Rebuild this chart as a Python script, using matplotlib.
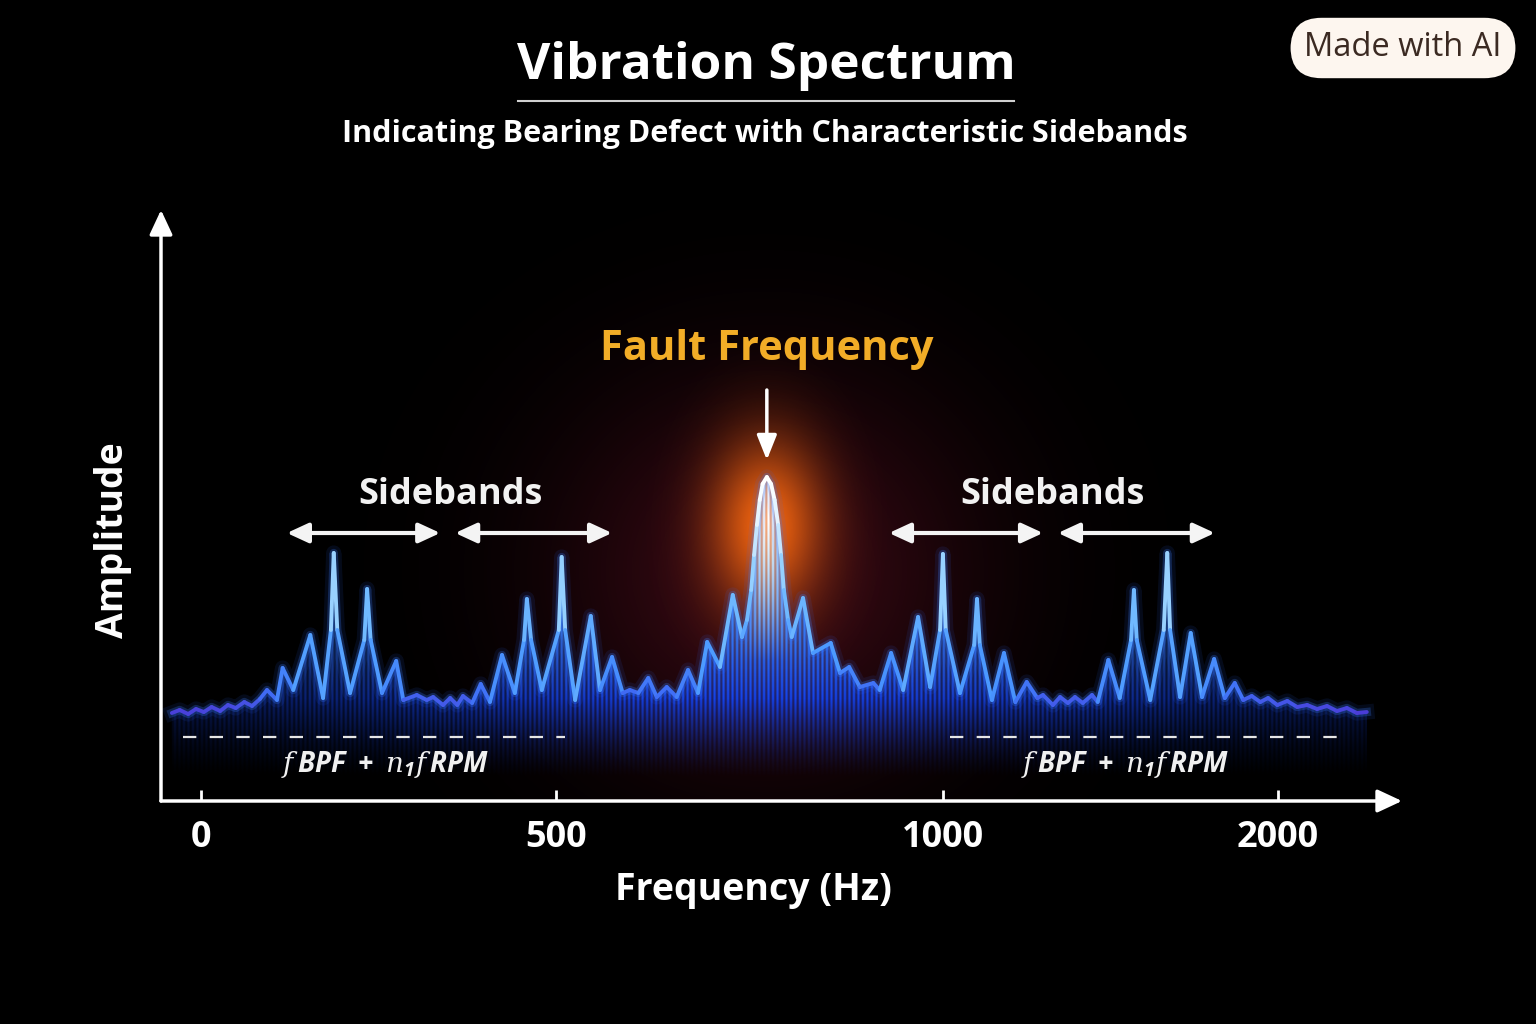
import numpy as np
import matplotlib
matplotlib.use("Agg")
import matplotlib.pyplot as plt
from matplotlib.collections import LineCollection
from matplotlib.patches import Polygon
from matplotlib.lines import Line2D
import matplotlib.colors as mcolors

# ---------------- data ----------------
freq_hz = [-41, -30, -18, -7, 4, 15, 27, 38, 49, 61, 72, 83, 93, 107, 115, 130,
           154, 172, 183, 187, 192, 210, 230, 234, 239, 255, 275, 285, 304, 318,
           327, 341, 351, 361, 369, 382, 394, 407, 424, 442, 455, 459, 465, 480,
           504, 508, 513, 527, 549, 562, 579, 594, 604, 616, 630, 642, 656, 670,
           686, 700, 713, 731, 749, 762, 769, 775, 779, 783, 787, 791, 797, 803,
           808, 813, 817, 821, 827, 832, 848, 862, 887, 900, 913, 928, 947, 956,
           972, 989, 1010, 1027, 1041, 1045, 1049, 1069, 1089, 1093, 1097, 1114,
           1131, 1147, 1163, 1178, 1186, 1200, 1210, 1221, 1231, 1242, 1255, 1263,
           1278, 1294, 1310, 1314, 1318, 1337, 1356, 1361, 1365, 1379, 1394, 1410,
           1427, 1442, 1456, 1468, 1480, 1492, 1503, 1516, 1530, 1544, 1558, 1572,
           1586, 1600, 1614, 1628, 1642]
amplitude = [88, 91, 87, 92, 89, 94, 90, 96, 93, 99, 95, 102, 111, 101, 133, 111,
             166, 103, 171, 248, 171, 108, 161, 212, 161, 108, 140, 101, 106, 101,
             104, 96, 103, 96, 105, 98, 117, 99, 146, 108, 161, 202, 161, 111,
             171, 244, 171, 101, 185, 111, 144, 108, 111, 108, 123, 104, 114, 104,
             131, 108, 159, 134, 206, 164, 181, 211, 246, 276, 301, 317, 324, 317,
             301, 276, 246, 211, 181, 164, 203, 148, 158, 128, 134, 114, 118, 111,
             148, 111, 184, 114, 171, 247, 171, 108, 156, 202, 156, 101,
             148, 99, 119, 103, 106, 96, 104, 98, 104, 98, 106, 99,
             141, 103, 161, 211, 161, 101, 171, 248, 171, 104, 168, 104,
             142, 103, 118, 101, 105, 99, 103, 96, 100, 94, 96, 92,
             95, 90, 93, 88, 89]

tick_positions = [0, 500, 1045, 1517]
tick_labels = ["0", "500", "1000", "2000"]

fault_freq = 797
fault_amp = 324

sideband_label_x = [351, 1199]
sideband_arrow_spans = [(121, 337), (358, 579), (969, 1186), (1207, 1428)]
formula_spans = [(-25, 513), (1055, 1614)]
formula_x = [259, 1301]

title = "Vibration Spectrum"
subtitle = "Indicating Bearing Defect with Characteristic Sidebands"
x_label = "Frequency (Hz)"
y_label = "Amplitude"
fault_label = "Fault Frequency"
sideband_label = "Sidebands"
formula_label = r"$f\,\mathrm{BPF}\;+\;n_{1}f\,\mathrm{RPM}$"
badge_label = "Made with AI"

# ---------------- style ----------------
plt.rcParams["font.family"] = ["Open Sans", "DejaVu Sans"]
plt.rcParams["mathtext.fontset"] = "custom"
plt.rcParams["mathtext.rm"] = "Open Sans:italic:bold"
plt.rcParams["mathtext.it"] = "DejaVu Serif:italic"
plt.rcParams["mathtext.bf"] = "Open Sans:bold"

W, H = 1536, 1024
fig = plt.figure(figsize=(W / 100, H / 100), dpi=100, facecolor="black")

L, R, B, T = 161, 1402, 801, 210
ax = fig.add_axes([L / W, 1 - B / H, (R - L) / W, (B - T) / H])
ax.set_facecolor("black")
XMIN, XMAX = -56.3, 1691.6
YMIN, YMAX = 0, 591
ax.set_xlim(XMIN, XMAX)
ax.set_ylim(YMIN, YMAX)
for s in ax.spines.values():
    s.set_visible(False)

x = np.array(freq_hz, dtype=float)
a = np.array(amplitude, dtype=float)

# ---------------- glow behind fault peak ----------------
gx = np.linspace(XMIN, XMAX, 700)
gy = np.linspace(YMIN, YMAX, 400)
GX, GY = np.meshgrid(gx, gy)
haze = np.zeros(GX.shape + (4,))
haze[..., 0] = 0.40
haze[..., 1] = 0.07
haze[..., 2] = 0.14
haze[..., 3] = 0.55 * np.exp(-((GX - fault_freq) / 290) ** 2 - ((GY - 230) / 190) ** 2)
ax.imshow(haze, extent=[XMIN, XMAX, YMIN, YMAX], origin="lower", aspect="auto",
          zorder=1, interpolation="bilinear")
orange = np.zeros(GX.shape + (4,))
orange[..., 0] = 1.0
orange[..., 1] = 0.42
orange[..., 2] = 0.06
orange[..., 3] = 0.92 * np.exp(-((GX - fault_freq) / 78) ** 2 - ((GY - 275) / 85) ** 2)
ax.imshow(orange, extent=[XMIN, XMAX, YMIN, YMAX], origin="lower", aspect="auto",
          zorder=1.1, interpolation="bilinear")

# ---------------- gradient fill under the spectrum ----------------
fx = np.linspace(XMIN, XMAX, 1241)
fy = np.linspace(0, 340, 340)
FX, FY = np.meshgrid(fx, fy)
blue = np.array([0.08, 0.26, 0.92])
light = np.array([0.35, 0.72, 1.0])
white = np.array([1.0, 1.0, 1.0])
t = np.clip((FY - 100) / 150, 0, 1)[..., None]
col = blue * (1 - t) + light * t
w = (np.clip((FY - 140) / 140, 0, 1) * np.exp(-((FX - fault_freq) / 30) ** 2))[..., None]
col = col * (1 - w) + white * w
gx_fac = 0.25 + 0.75 * np.exp(-((FX - fault_freq) / 600) ** 2)
stri = 0.72 + 0.28 * np.cos(2 * np.pi * (FX - XMIN) / 1.4085 / 4.5)
alpha = np.clip((FY - 22) / 80, 0, 1) ** 1.4 * gx_fac * stri
fill_img = np.dstack([col, alpha])
im = ax.imshow(fill_img, extent=[XMIN, XMAX, 0, 340], origin="lower", aspect="auto",
               zorder=2, interpolation="bilinear")
clip_poly = Polygon([(x[0], 0)] + list(zip(x, a)) + [(x[-1], 0)], closed=True,
                    facecolor="none", edgecolor="none", transform=ax.transData)
ax.add_patch(clip_poly)
im.set_clip_path(clip_poly)

# ---------------- spectrum line with glow ----------------
ax.plot(x, a, color="#2f6bff", lw=11, alpha=0.10, zorder=3, solid_joinstyle="round")
ax.plot(x, a, color="#3b7dff", lw=6, alpha=0.25, zorder=3.1, solid_joinstyle="round")
cmap = mcolors.LinearSegmentedColormap.from_list(
    "spec", [(0.0, "#4a3ad6"), (0.10, "#3f6df5"), (0.28, "#4a98ff"),
             (0.60, "#7cc4ff"), (0.85, "#d6eeff"), (1.0, "#ffffff")])
pts = np.column_stack([x, a]).reshape(-1, 1, 2)
segs = np.concatenate([pts[:-1], pts[1:]], axis=1)
seg_val = np.clip((np.maximum(a[:-1], a[1:]) - 88) / (fault_amp - 88), 0, 1)
lc = LineCollection(segs, colors=cmap(seg_val), linewidths=2.8, zorder=4,
                    capstyle="round", joinstyle="round")
ax.add_collection(lc)

# ---------------- axes arrows and ticks ----------------
arrow_kw = dict(arrowstyle="-|>,head_length=1.5,head_width=0.7", color="white",
                lw=2.5, shrinkA=0, shrinkB=0)
ax.annotate("", xy=(0, 1), xytext=(0, 0), xycoords="axes fraction",
            textcoords="axes fraction", arrowprops=arrow_kw, zorder=6)
ax.annotate("", xy=(1, 0), xytext=(0, 0), xycoords="axes fraction",
            textcoords="axes fraction", arrowprops=arrow_kw, zorder=6)
ax.set_xticks(tick_positions)
ax.set_xticklabels(tick_labels, fontsize=26, fontweight="bold", color="white")
ax.tick_params(axis="x", direction="in", length=8, width=2, colors="white", pad=14)
ax.set_yticks([])

# ---------------- annotations ----------------
ax.text(fault_freq, 451, fault_label, color="#f2ad27", fontsize=30, fontweight="bold",
        ha="center", va="center", zorder=7)
ax.annotate("", xy=(fault_freq, 341), xytext=(fault_freq, 411),
            arrowprops=dict(arrowstyle="-|>,head_length=1.5,head_width=0.6",
                            color="white", lw=2.5, shrinkA=0, shrinkB=0), zorder=7)

for sx in sideband_label_x:
    ax.text(sx, 306, sideband_label, color="#f2f2f2", fontsize=26, fontweight="bold",
            ha="center", va="center", zorder=7)
for x0, x1 in sideband_arrow_spans:
    ax.annotate("", xy=(x1, 268), xytext=(x0, 268),
                arrowprops=dict(arrowstyle="<|-|>,head_length=1.3,head_width=0.6",
                                color="#f4f4f4", lw=3, shrinkA=0, shrinkB=0), zorder=7)

for (x0, x1), fxp in zip(formula_spans, formula_x):
    ax.plot([x0, x1], [64, 64], color="#e6e6e6", lw=1.6, dashes=(6, 6), zorder=5)
    ax.text(fxp, 36, formula_label, color="#f0f0f0", fontsize=20, ha="center",
            va="center", zorder=7)

# ---------------- titles and labels ----------------
fig.text(766 / W, 1 - 66 / H, title, color="white", fontsize=37, fontweight="bold",
         ha="center", va="center")
fig.add_artist(Line2D([518 / W, 1014 / W], [1 - 101 / H, 1 - 101 / H],
                      transform=fig.transFigure, color="#d0d0d0", lw=1.5))
fig.text(765 / W, 1 - 134 / H, subtitle, color="white", fontsize=22,
         fontweight="bold", ha="center", va="center")
fig.text(753 / W, 1 - 890 / H, x_label, color="white", fontsize=27, fontweight="bold",
         ha="center", va="center")
fig.text(113 / W, 1 - 540 / H, y_label, color="white", fontsize=27, fontweight="bold",
         ha="center", va="center", rotation=90)
fig.text(1403 / W, 1 - 48 / H, badge_label, color="#3b2a22", fontsize=23.5,
         ha="center", va="center",
         bbox=dict(boxstyle="round,pad=0.42,rounding_size=0.95", fc="#fdf6ef", ec="none"))

fig.savefig("out.png", dpi=100, facecolor="black")
